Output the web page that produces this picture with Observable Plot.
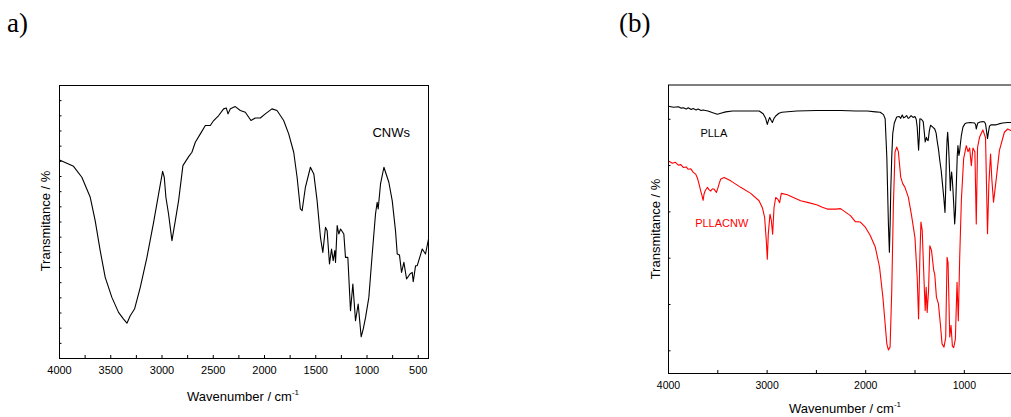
<!DOCTYPE html>
<html>
<head>
<meta charset="utf-8">
<script src="https://cdn.jsdelivr.net/npm/d3@7"></script>
<script src="https://cdn.jsdelivr.net/npm/@observablehq/plot@0.6"></script>
<style>
  html, body { margin: 0; padding: 0; background: #fff; }
  #wrap { position: relative; width: 1011px; height: 417px; overflow: hidden; background: #fff; font-family: "Liberation Sans", Arial, sans-serif; color: #000; }
  .panel { position: absolute; top: 0; }
  .lbl { position: absolute; white-space: nowrap; font-size: 13px; }
  .letter { position: absolute; font-family: "Liberation Serif", "Times New Roman", serif; font-size: 27px; line-height: 1; }
  sup { font-size: 8px; vertical-align: 6px; line-height: 0; }
</style>
</head>
<body>
<div id="wrap">
  <div class="panel" id="pa" style="left:0px;width:450px;"></div>
  <div class="panel" id="pb" style="left:600px;width:440px;"></div>
  <div class="letter" style="left:7px;top:10px;">a)</div>
  <div class="letter" style="left:619px;top:10px;">(b)</div>
  <div class="lbl" style="left:243px;top:396px;transform:translate(-50%,-50%);">Wavenumber / cm<sup>-1</sup></div>
  <div class="lbl" style="left:45px;top:221px;transform:translate(-50%,-50%) rotate(-90deg);">Transmitance / %</div>
  <div class="lbl" style="left:845px;top:408px;transform:translate(-50%,-50%);">Wavenumber / cm<sup>-1</sup></div>
  <div class="lbl" style="left:655px;top:229px;transform:translate(-50%,-50%) rotate(-90deg);">Transmitance / %</div>
</div>
<script>
// ---------- Panel (a): CNWs ----------
const cnwWavenumber = [4000,3863,3782,3700,3652,3603,3554,3489,3424,3375,3342,3310,3268,3212,3147,3082,3033,2994,2978,2962,2936,2903,2870,2838,2796,2740,2708,2675,2626,2577,2529,2496,2447,2399,2373,2356,2333,2285,2236,2187,2132,2090,2041,1992,1927,1878,1813,1764,1715,1682,1650,1633,1601,1552,1519,1487,1454,1431,1405,1389,1366,1346,1330,1314,1307,1291,1275,1258,1226,1210,1187,1161,1138,1112,1086,1057,1037,1014,982,949,917,901,891,868,835,803,787,754,722,705,683,663,640,614,581,559,549,526,510,461,429,400];
const cnwTransmittance = [13.09,12.67,11.95,10.63,9.09,7.11,5.35,4.03,3.04,2.60,2.33,2.82,3.26,4.69,6.67,8.98,10.85,12.34,11.95,10.63,9.53,7.77,9.09,10.41,12.72,13.31,13.6,14.26,14.81,15.36,15.36,15.69,16.02,16.46,16.52,16.13,16.46,16.61,16.35,16.24,15.69,15.86,15.86,16.13,16.46,16.35,15.69,14.81,13.6,11.95,9.86,9.75,11.29,12.61,12.17,10.41,7.99,7.0,8.65,8.43,6.23,7.22,6.45,7.11,6.34,8.76,8.21,8.54,8.21,6.67,6.67,3.15,4.91,2.49,3.59,1.43,1.94,2.71,4.03,6.89,9.53,10.3,9.86,11.51,12.61,11.95,11.62,10.41,8.43,6.89,6.82,5.68,6.34,5.24,5.57,5.68,5.06,6.12,6.12,7.22,6.89,7.88];
const cnwLabel = ["CNWs"];
const cnwLabelPos = {wn: 764, t: 14.85};
const aMajorTicks = [4000,3500,3000,2500,2000,1500,1000,500];
const aMinorTicks = [3750,3250,2750,2250,1750,1250,750];
const aYTicks = [1,2,3,4,5,6,7,8,9,10,11,12,13,14,15,16,17];

// ---------- Panel (b): PLLA and PLLACNW ----------
const pllaWavenumber = [4000,3950,3900,3870,3850,3820,3800,3770,3750,3720,3700,3670,3650,3600,3550,3505,3470,3420,3350,3200,3080,3040,3015,2998,2985,2974,2960,2947,2930,2913,2880,2850,2700,2500,2323,2256,2100,1985,1900,1853,1820,1803,1786,1770,1760,1752,1746,1736,1726,1710,1686,1660,1645,1630,1615,1600,1585,1570,1560,1540,1520,1501,1488,1478,1470,1464,1457,1451,1435,1417,1405,1397,1384,1375,1367,1355,1343,1320,1300,1286,1276,1262,1249,1235,1222,1208,1196,1189,1182,1175,1169,1162,1155,1148,1142,1136,1129,1122,1115,1106,1098,1090,1081,1072,1065,1055,1048,1041,1030,1014,995,980,940,896,885,879,872,863,840,812,795,785,775,765,757,745,730,711,678,650,611,560,520];
const pllaTransmittance = [6.28,6.26,6.27,6.24,6.25,6.22,6.25,6.21,6.23,6.20,6.22,6.19,6.20,6.18,6.14,6.11,6.13,6.16,6.18,6.18,6.18,6.12,6.02,5.89,5.98,6.04,5.98,5.93,6.02,6.07,6.13,6.15,6.18,6.19,6.19,6.19,6.18,6.18,6.16,6.15,6.10,6.01,5.18,3.74,3.13,3.8,4.46,5.2,5.69,5.92,6.05,6.06,6.02,6.09,6.03,6.05,6.08,6.02,6.03,6.08,6.04,6.06,6.0,5.83,5.55,5.33,5.6,6.01,6.0,5.95,5.7,5.51,5.61,5.55,5.54,5.75,5.87,5.83,5.79,5.7,5.54,5.35,5.11,4.9,4.61,4.3,3.99,4.5,5.18,5.55,5.72,5.5,5.18,4.8,4.46,4.7,4.86,4.7,4.46,4.1,3.74,4.0,4.6,5.2,5.43,5.22,5.3,5.45,5.65,5.83,5.9,5.92,5.93,5.92,5.88,5.79,5.85,5.92,5.94,5.95,5.94,5.9,5.75,5.58,5.7,5.85,5.88,5.88,5.88,5.90,5.92,5.93,5.93];
const pllacnwWavenumber = [4000,3960,3930,3900,3875,3850,3820,3800,3774,3750,3723,3705,3690,3673,3660,3649,3640,3629,3615,3605,3590,3571,3555,3538,3514,3497,3485,3470,3436,3369,3268,3166,3082,3048,3025,3008,2998,2988,2971,2957,2944,2930,2913,2890,2873,2856,2795,2660,2580,2491,2440,2390,2300,2256,2155,2105,2054,2004,1954,1903,1860,1826,1803,1786,1770,1753,1736,1720,1703,1686,1669,1645,1625,1602,1568,1535,1501,1478,1464,1451,1440,1427,1410,1397,1387,1377,1363,1350,1333,1310,1300,1283,1263,1243,1226,1206,1189,1175,1165,1148,1135,1121,1108,1091,1074,1061,1047,1030,1007,980,963,946,929,913,893,879,866,846,812,785,765,751,734,721,704,678,644,594,560,520];
const pllacnwTransmittance = [5.10,5.05,5.07,5.01,5.02,4.96,4.97,4.92,4.93,4.86,4.81,4.72,4.60,4.45,4.35,4.25,4.38,4.45,4.50,4.53,4.48,4.45,4.50,4.49,4.42,4.53,4.62,4.71,4.74,4.67,4.53,4.40,4.24,4.09,3.88,3.37,2.98,3.52,3.95,3.81,3.52,4.09,4.31,4.27,4.20,4.40,4.37,4.24,4.20,4.15,4.10,4.06,4.06,4.07,3.92,3.79,3.78,3.67,3.49,3.24,2.81,2.16,1.58,1.15,1.02,1.08,2.30,4.10,5.29,5.40,5.30,4.75,4.61,4.53,4.32,3.92,3.45,2.59,1.69,3.02,3.78,3.6,2.59,1.87,2.37,1.83,2.3,3.27,3.17,2.73,2.65,2.16,2.02,1.58,1.15,1.08,1.29,3.02,2.9,1.3,1.55,1.1,1.07,1.25,2.48,1.65,3.02,4.25,5.15,5.43,5.3,5.38,5.0,5.38,5.3,3.74,5.39,5.61,5.77,5.6,3.53,4.61,5.25,4.7,4.21,4.68,5.33,5.72,5.79,5.75];
const pllaLabel = ["PLLA"];
const pllaLabelPos = {wn: 3540, t: 5.69};
const pllacnwLabel = ["PLLACNW"];
const pllacnwLabelPos = {wn: 3460, t: 3.74};
const bMajorTicks = [4000,3000,2000,1000];
const bMinorTicks = [3500,2500,1500,500];
const bYTicks = [1,2,3,4,5,6];

const zip = (xs, ys) => xs.map((x, i) => ({wn: x, t: ys[i]}));
const plain = d3.format("d");

const baseStyle = {fontFamily: "'Liberation Sans', Arial, sans-serif", fontSize: "11px", color: "#000", background: "#fff", overflow: "visible"};

const plotA = Plot.plot({
  width: 450, height: 417,
  marginLeft: 59, marginRight: 22, marginTop: 85, marginBottom: 59,
  style: baseStyle,
  x: {domain: [4000, 400]},
  y: {domain: [0, 18]},
  marks: [
    Plot.lineY(zip(cnwWavenumber, cnwTransmittance), {x: "wn", y: "t", stroke: "#000", strokeWidth: 1.1}),
    Plot.text(cnwLabel, {x: () => cnwLabelPos.wn, y: () => cnwLabelPos.t, text: d => d, fontSize: 13, fill: "#000"}),
    Plot.axisX({ticks: aMajorTicks, tickSize: -3, tickPadding: 10.5, tickFormat: plain, label: null, fontSize: 11}),
    Plot.axisX({ticks: aMinorTicks, tickSize: -3, tickFormat: () => "", label: null}),
    Plot.axisY({ticks: aYTicks, tickSize: -2.5, tickFormat: () => "", label: null}),
    Plot.frame({stroke: "#000", strokeWidth: 1})
  ]
});
document.getElementById("pa").appendChild(plotA);

const plotB = Plot.plot({
  width: 440, height: 417,
  marginLeft: 68, marginRight: 17, marginTop: 84.5, marginBottom: 44,
  style: {...baseStyle, fontSize: "10.5px"},
  x: {domain: [4000, 400]},
  y: {domain: [0.51, 6.74]},
  marks: [
    Plot.lineY(zip(pllaWavenumber, pllaTransmittance), {x: "wn", y: "t", stroke: "#000", strokeWidth: 1.1}),
    Plot.lineY(zip(pllacnwWavenumber, pllacnwTransmittance), {x: "wn", y: "t", stroke: "#ff0000", strokeWidth: 1.1}),
    Plot.text(pllaLabel, {x: () => pllaLabelPos.wn, y: () => pllaLabelPos.t, text: d => d, fontSize: 11, fill: "#000"}),
    Plot.text(pllacnwLabel, {x: () => pllacnwLabelPos.wn, y: () => pllacnwLabelPos.t, text: d => d, fontSize: 11, fill: "#ff0000"}),
    Plot.axisX({ticks: bMajorTicks, tickSize: -3, tickPadding: 11, tickFormat: plain, label: null, fontSize: 10.5}),
    Plot.axisX({ticks: bMinorTicks, tickSize: -3, tickFormat: () => "", label: null}),
    Plot.axisY({ticks: bYTicks, tickSize: -2.5, tickFormat: () => "", label: null}),
    Plot.frame({stroke: "#000", strokeWidth: 1})
  ]
});
document.getElementById("pb").appendChild(plotB);
</script>
</body>
</html>
